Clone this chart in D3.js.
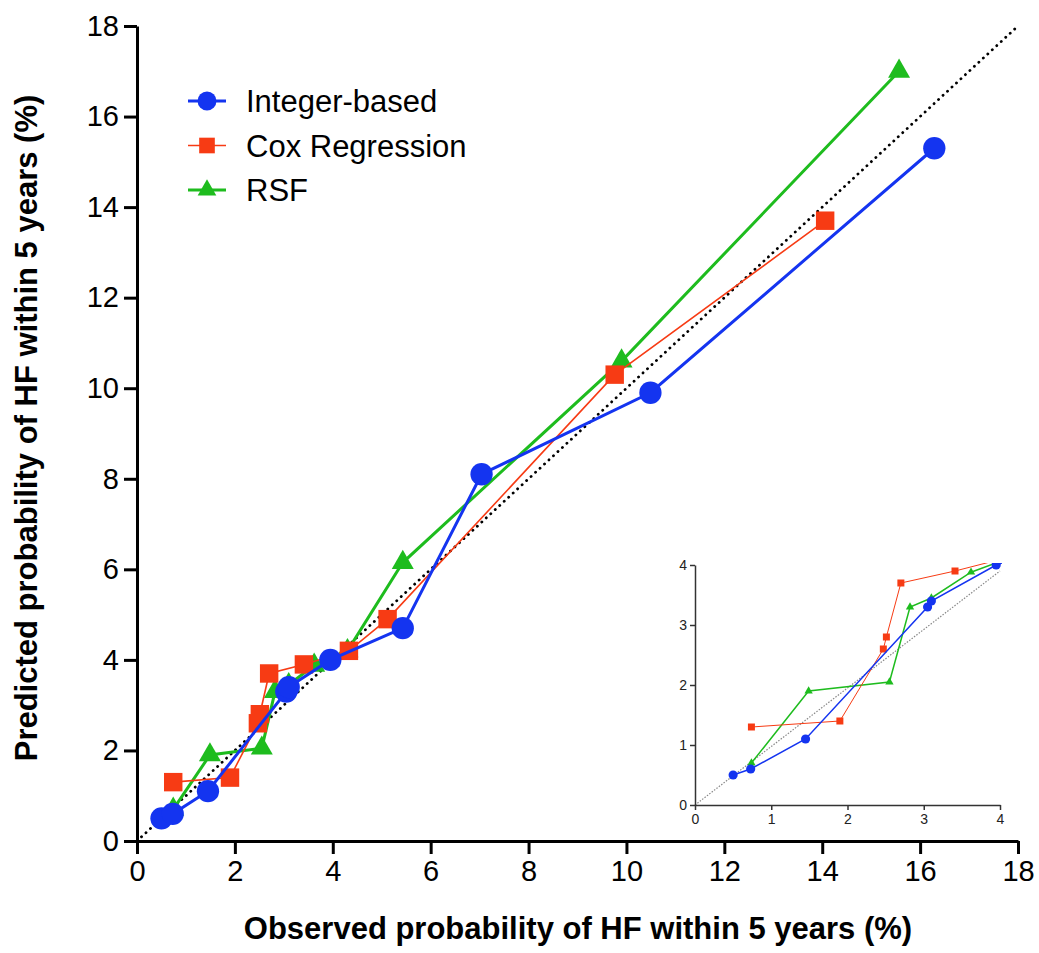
<!DOCTYPE html>
<html>
<head>
<meta charset="utf-8">
<script src="https://cdn.jsdelivr.net/npm/d3@7"></script>
<style>
  body { margin: 0; background: #fff; }
  text { font-family: "Liberation Sans", Arial, sans-serif; fill: #000; }
</style>
</head>
<body>
<svg class="calib" width="1039" height="953"></svg>
<script>
// observed vs predicted (%)
var obsInt  = [0.5, 0.73, 1.45, 3.05, 3.1, 3.95, 5.43, 7.04, 10.49, 16.29];
var predInt = [0.5, 0.6, 1.1, 3.3, 3.4, 4.0, 4.7, 8.1, 9.9, 15.3];

var obsCox  = [0.74, 1.9, 2.47, 2.51, 2.7, 3.41, 4.33, 5.12, 9.76, 14.06];
var predCox = [1.3, 1.4, 2.6, 2.8, 3.7, 3.9, 4.2, 4.9, 10.3, 13.7];

var obsRsf  = [0.74, 1.49, 2.55, 2.82, 3.1, 3.62, 4.3, 5.43, 9.9, 15.57];
var predRsf = [0.7, 1.9, 2.05, 3.3, 3.45, 3.88, 4.2, 6.15, 10.6, 17.0];

var mainTicks = [0, 2, 4, 6, 8, 10, 12, 14, 16, 18];
var insetTicks = [0, 1, 2, 3, 4];

var blue = "#1434f0", red = "#f73b14", green = "#1ebc1e";

var series = [
  {name: "RSF",           obs: obsRsf, pred: predRsf, color: green, sym: d3.symbolTriangle, lw: 3,   size: 210, isize: 30, ilw: 1.5},
  {name: "Cox Regression",obs: obsCox, pred: predCox, color: red,   sym: d3.symbolSquare,   lw: 1.6, size: 340, isize: 49, ilw: 1},
  {name: "Integer-based", obs: obsInt, pred: predInt, color: blue,  sym: d3.symbolCircle,   lw: 3,   size: 390, isize: 66, ilw: 1.5}
];

var svg = d3.select(".calib");

var x = d3.scaleLinear().domain([0, 18]).range([137, 1018]);
var y = d3.scaleLinear().domain([0, 18]).range([841, 26]);

// diagonal reference
svg.append("line")
  .attr("x1", x(0)).attr("y1", y(0))
  .attr("x2", x(18)).attr("y2", y(18))
  .style("stroke", "#000")
  .style("stroke-width", 2.8)
  .style("stroke-linecap", "round")
  .style("stroke-dasharray", "0.1,6");

// axes
var xAxis = svg.append("g")
  .attr("transform", "translate(0," + y(0) + ")")
  .call(d3.axisBottom(x).tickValues(mainTicks).tickSize(13).tickSizeOuter(0).tickPadding(6));
var yAxis = svg.append("g")
  .attr("transform", "translate(" + x(0) + ",0)")
  .call(d3.axisLeft(y).tickValues(mainTicks).tickSize(13).tickSizeOuter(0).tickPadding(5));

[xAxis, yAxis].forEach(function(g) {
  g.select(".domain").style("stroke", "#000").style("stroke-width", 3);
  g.selectAll(".tick line").style("stroke", "#000").style("stroke-width", 3);
  g.selectAll(".tick text")
    .style("font-family", '"Liberation Sans", Arial, sans-serif')
    .style("font-size", "29px")
    .style("fill", "#000");
});

// series
var line = d3.line()
  .x(function(d) { return x(d[0]); })
  .y(function(d) { return y(d[1]); });

series.forEach(function(s) {
  var pts = s.obs.map(function(v, i) { return [v, s.pred[i]]; });
  var g = svg.append("g");
  g.append("path")
    .attr("d", line(pts))
    .style("fill", "none")
    .style("stroke", s.color)
    .style("stroke-width", s.lw);
  g.selectAll("path.pt")
    .data(pts)
    .enter().append("path")
    .attr("class", "pt")
    .attr("transform", function(d) { return "translate(" + x(d[0]) + "," + y(d[1]) + ")"; })
    .attr("d", d3.symbol().type(s.sym).size(s.size))
    .style("fill", s.color);
});

// legend
var legendRows = series.slice().reverse();
var lg = svg.append("g").attr("transform", "translate(188,101)");
legendRows.forEach(function(s, i) {
  var row = lg.append("g").attr("transform", "translate(0," + (i * 44.5) + ")");
  row.append("line").attr("x1", 0).attr("x2", 38)
    .style("stroke", s.color).style("stroke-width", s.lw);
  row.append("path")
    .attr("transform", "translate(19,0)")
    .attr("d", d3.symbol().type(s.sym).size(s.size * 0.72))
    .style("fill", s.color);
  row.append("text")
    .attr("x", 58).attr("dy", "0.36em")
    .style("font-size", "31px")
    .text(s.name);
});

// axis titles
svg.append("text")
  .attr("x", 578).attr("y", 939)
  .attr("text-anchor", "middle")
  .style("font-size", "31px").style("font-weight", "bold")
  .text("Observed probability of HF within 5 years (%)");

svg.append("text")
  .attr("transform", "translate(37,428) rotate(-90)")
  .attr("text-anchor", "middle")
  .style("font-size", "31px").style("font-weight", "bold")
  .text("Predicted probability of HF within 5 years (%)");

// inset zoom 0-4
var ix = d3.scaleLinear().domain([0, 4]).range([695, 1000]);
var iy = d3.scaleLinear().domain([0, 4]).range([805, 565]);

svg.append("clipPath").attr("id", "insetClip")
  .append("rect")
  .attr("x", ix(0)).attr("y", iy(4) - 2)
  .attr("width", ix(4) - ix(0) + 2).attr("height", iy(0) - iy(4) + 2);

svg.append("line")
  .attr("x1", ix(0)).attr("y1", iy(0))
  .attr("x2", ix(4)).attr("y2", iy(4) + 6)
  .style("stroke", "#888")
  .style("stroke-width", 1.2)
  .style("stroke-dasharray", "1.5,1.5");

var ixAxis = svg.append("g")
  .attr("transform", "translate(0," + iy(0) + ")")
  .call(d3.axisBottom(ix).tickValues(insetTicks).tickFormat(d3.format("d")).tickSize(5).tickSizeOuter(0).tickPadding(4));
var iyAxis = svg.append("g")
  .attr("transform", "translate(" + ix(0) + ",0)")
  .call(d3.axisLeft(iy).tickValues(insetTicks).tickFormat(d3.format("d")).tickSize(5).tickSizeOuter(0).tickPadding(3));

[ixAxis, iyAxis].forEach(function(g) {
  g.select(".domain").style("stroke", "#333").style("stroke-width", 1.5);
  g.selectAll(".tick line").style("stroke", "#333").style("stroke-width", 1.5);
  g.selectAll(".tick text")
    .style("font-family", '"Liberation Sans", Arial, sans-serif')
    .style("font-size", "14px")
    .style("fill", "#222");
});

var iline = d3.line()
  .x(function(d) { return ix(d[0]); })
  .y(function(d) { return iy(d[1]); });

series.forEach(function(s) {
  var pts = s.obs.map(function(v, i) { return [v, s.pred[i]]; });
  var g = svg.append("g").attr("clip-path", "url(#insetClip)");
  g.append("path")
    .attr("d", iline(pts))
    .style("fill", "none")
    .style("stroke", s.color)
    .style("stroke-width", s.ilw);
  g.selectAll("path.pt")
    .data(pts.filter(function(d) { return d[0] <= 4 && d[1] <= 4; }))
    .enter().append("path")
    .attr("class", "pt")
    .attr("transform", function(d) { return "translate(" + ix(d[0]) + "," + iy(d[1]) + ")"; })
    .attr("d", d3.symbol().type(s.sym).size(s.isize))
    .style("fill", s.color);
});
</script>
</body>
</html>
